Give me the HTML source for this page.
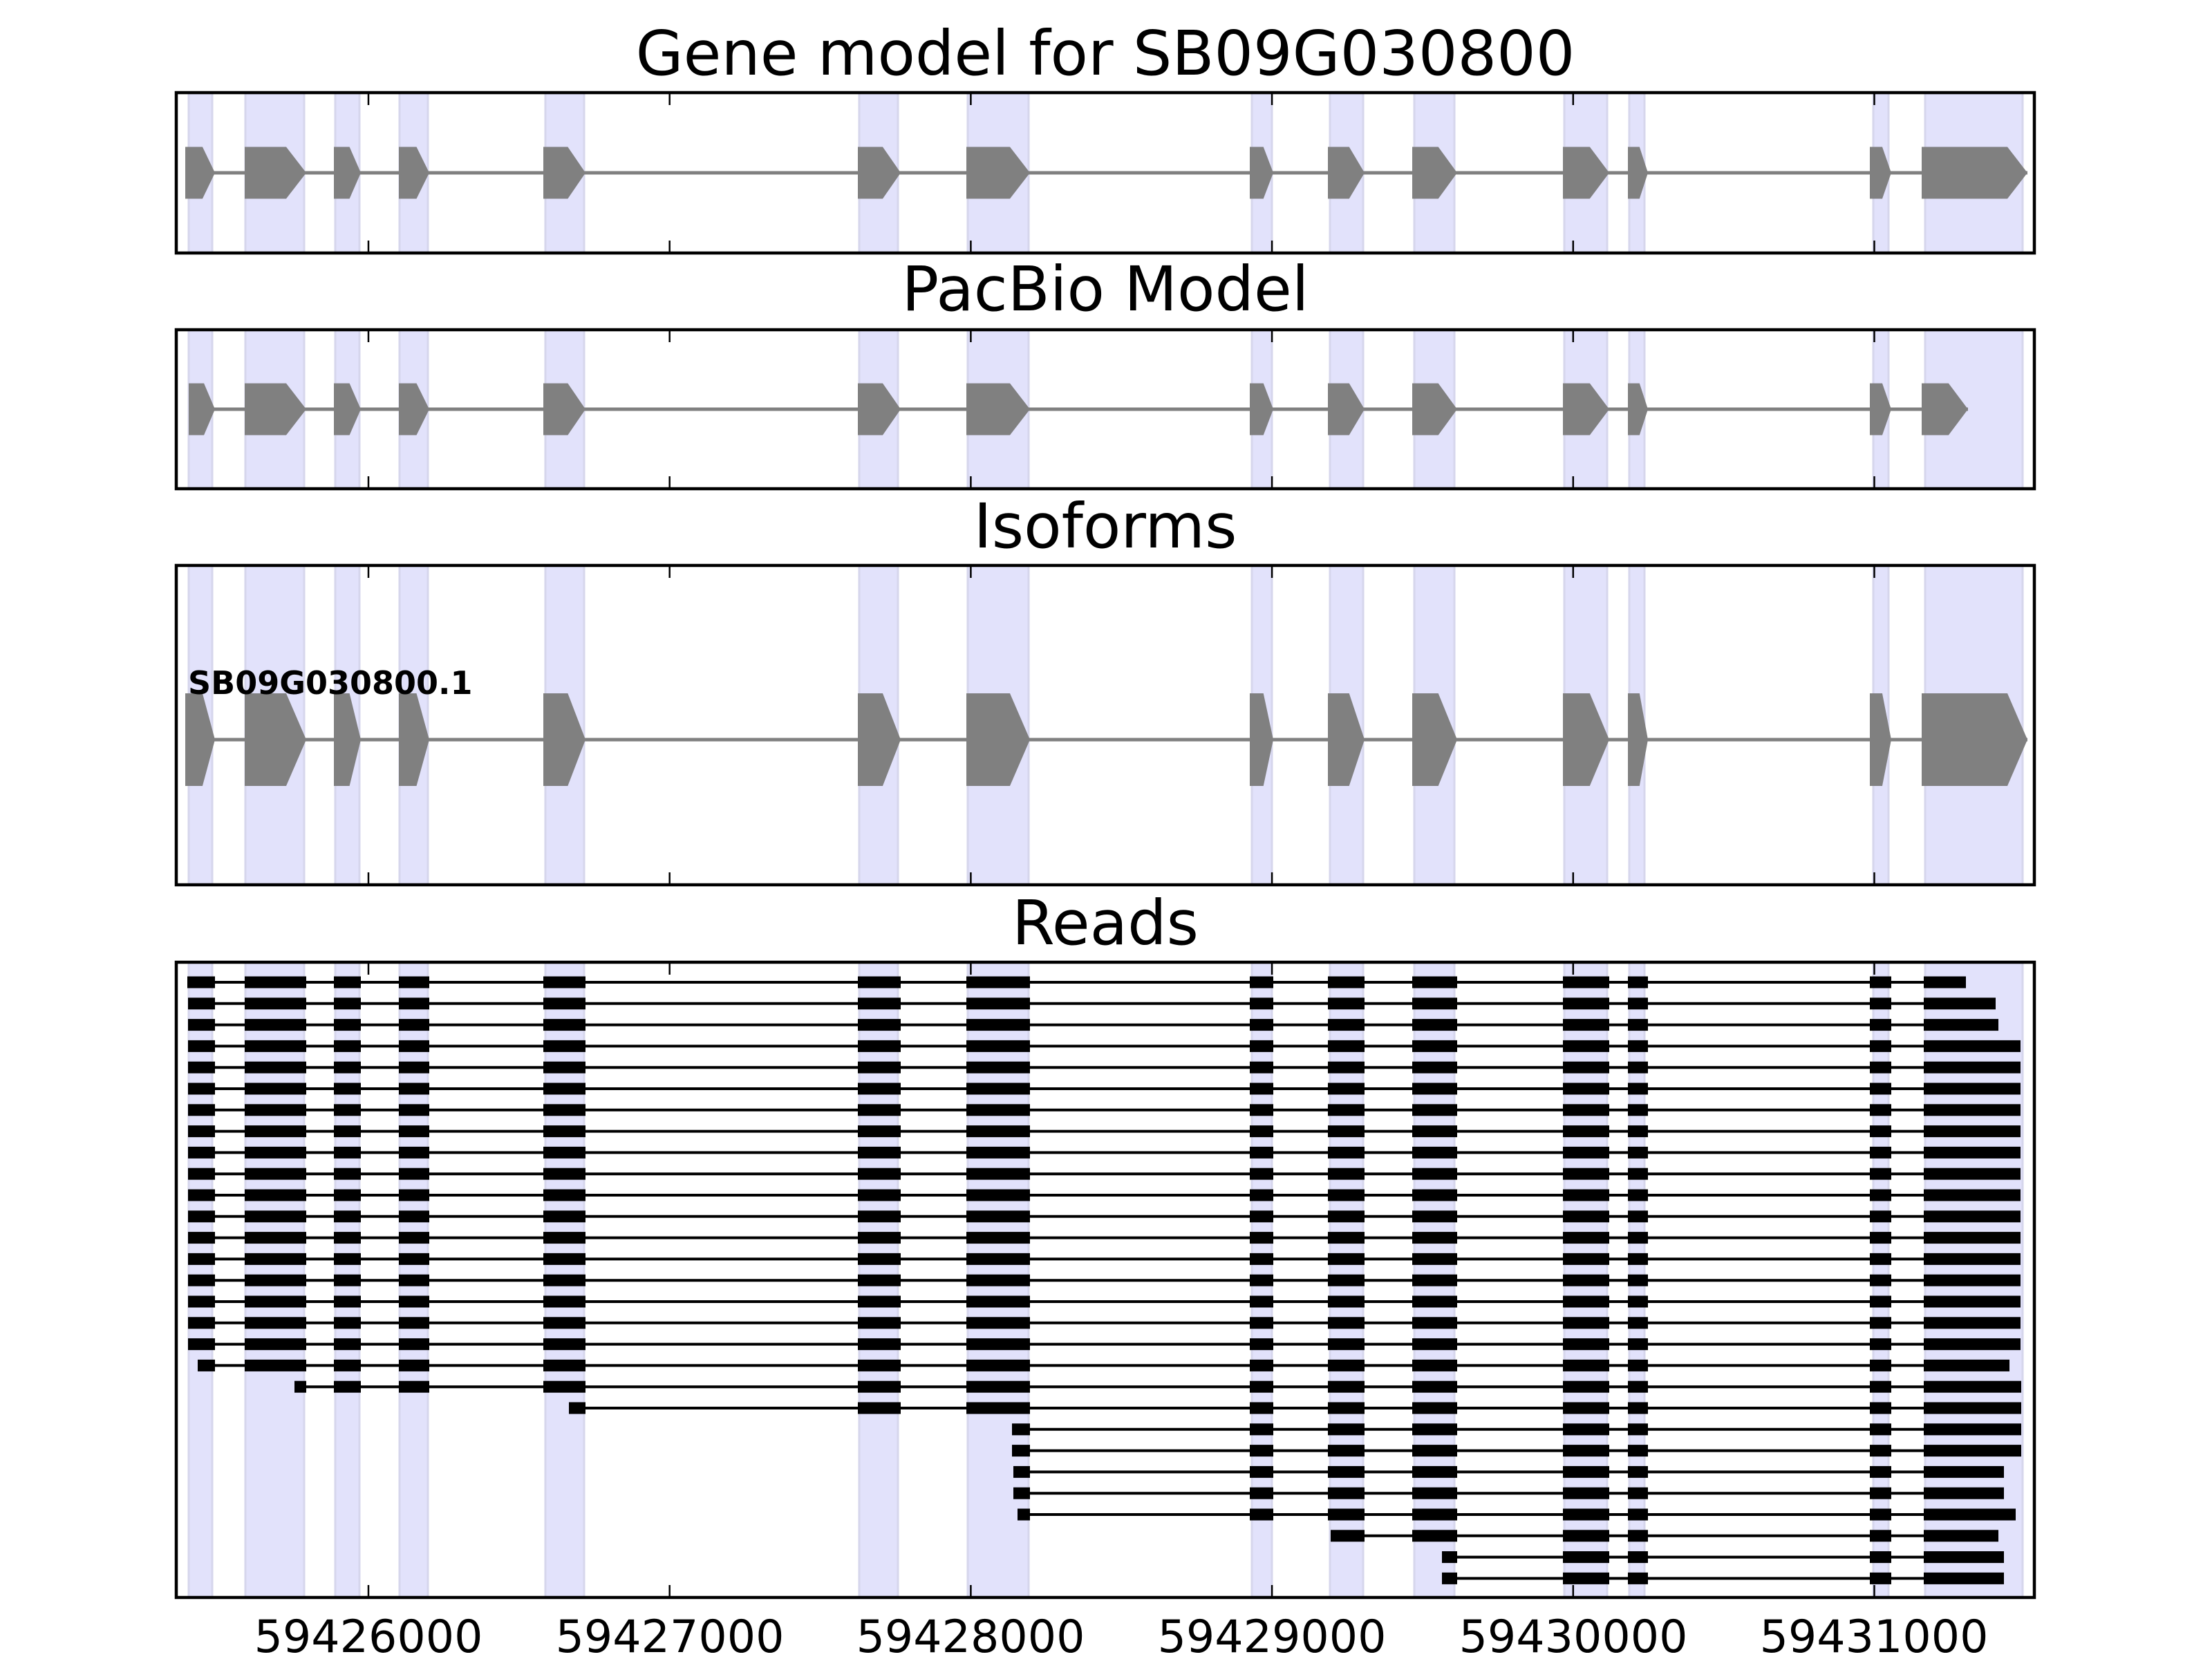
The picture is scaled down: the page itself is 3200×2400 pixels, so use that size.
<!DOCTYPE html>
<html><head><meta charset="utf-8"><style>
html,body{margin:0;padding:0;background:#fff;}
svg{display:block;}
text{font-family:"DejaVu Sans","Liberation Sans",sans-serif;}
</style></head><body>
<svg id="s" width="3200" height="2400" xmlns="http://www.w3.org/2000/svg">
<rect width="3200" height="2400" fill="#fff"/>
<g id="g"></g>
<text x="1599" y="108" font-size="89" text-anchor="middle">Gene model for SB09G030800</text>
<text x="1599" y="449" font-size="89" text-anchor="middle">PacBio Model</text>
<text x="1599" y="792" font-size="89" text-anchor="middle">Isoforms</text>
<text x="1599" y="1366" font-size="89" text-anchor="middle">Reads</text>
<text x="272" y="1004" font-size="46" font-weight="bold">SB09G030800.1</text>
<text x="533" y="2390" font-size="65" text-anchor="middle">59426000</text>
<text x="969" y="2390" font-size="65" text-anchor="middle">59427000</text>
<text x="1404" y="2390" font-size="65" text-anchor="middle">59428000</text>
<text x="1840" y="2390" font-size="65" text-anchor="middle">59429000</text>
<text x="2276" y="2390" font-size="65" text-anchor="middle">59430000</text>
<text x="2711" y="2390" font-size="65" text-anchor="middle">59431000</text>
</svg>
<script>
(function(){
var g=document.getElementById("g"),h="";
var L=255,R=2943;
var panels=[[134,366],[477,707],[818,1280],[1392,2311]];
var S=[[273,307],[355,440],[485,520],[578,619],[789,845],[1243,1299],[1400,1488],[1811,1840],[1924,1972],[2046,2104],[2263,2325],[2357,2379],[2710,2732],[2785,2926]];
var E=[[271,311],[354,443],[483,522],[577,621],[786,847],[1241,1303],[1398,1490],[1808,1842],[1921,1974],[2043,2108],[2261,2328],[2355,2384],[2705,2736],[2783,2923]];
var ticks=[533,968.7,1404.4,1840.1,2275.8,2711.5];
panels.forEach(function(p){
  S.forEach(function(s){
    h+='<rect x="'+s[0]+'" y="'+p[0]+'" width="'+(s[1]-s[0])+'" height="'+(p[1]-p[0])+'" fill="#e2e2fb" stroke="#d6d6ec" stroke-width="3"/>';
  });
});
function gene(cy,hh,first,last){
  var ex=E.map(function(e){return e.slice();});
  ex[0][0]=first[0];ex[13]=last;
  h+='<line x1="'+ex[0][0]+'" y1="'+cy+'" x2="'+ex[13][1]+'" y2="'+cy+'" stroke="#808080" stroke-width="5"/>';
  ex.forEach(function(e){
    var w=e[1]-e[0],t=Math.min(0.42*w,29),a=e[0],b=e[1]-t,c=e[1];
    h+='<polygon fill="#808080" points="'+a+','+(cy-hh/2)+' '+b+','+(cy-hh/2)+' '+c+','+cy+' '+b+','+(cy+hh/2)+' '+a+','+(cy+hh/2)+'"/>';
  });
}
gene(250,75,[268],[2780,2933]);
gene(592,75,[273],[2780,2847]);
gene(1070,134,[268],[2780,2933]);
var rows=[[271,2844,0],[272,2887,0],[272,2891,0]];
for(var i=3;i<=17;i++)rows.push([272,2923,0]);
rows.push([286,2907,0],[426,2924,1],[823,2924,4],[1464,2924,6],[1464,2924,6],[1466,2899,6],[1466,2899,6],[1472,2916,6],[1925,2891,8],[2086,2899,9],[2086,2899,9]);
rows.forEach(function(r,i){
  var y=1421+30.8*i;
  h+='<line x1="'+r[0]+'" y1="'+y+'" x2="'+r[1]+'" y2="'+y+'" stroke="#000" stroke-width="4"/>';
  for(var k=r[2];k<14;k++){
    var a=E[k][0],b=E[k][1];
    if(k==r[2])a=r[0];
    if(k==13)b=r[1];
    h+='<rect x="'+a+'" y="'+(y-8.5)+'" width="'+(b-a)+'" height="17" fill="#000"/>';
  }
});
panels.forEach(function(p){
  ticks.forEach(function(t){
    h+='<line x1="'+t+'" y1="'+p[0]+'" x2="'+t+'" y2="'+(p[0]+18)+'" stroke="#000" stroke-width="2.5"/>';
    h+='<line x1="'+t+'" y1="'+p[1]+'" x2="'+t+'" y2="'+(p[1]-18)+'" stroke="#000" stroke-width="2.5"/>';
  });
  h+='<rect x="'+L+'" y="'+p[0]+'" width="'+(R-L)+'" height="'+(p[1]-p[0])+'" fill="none" stroke="#000" stroke-width="4.5"/>';
});
g.innerHTML=h;
})();
</script>
</body></html>
